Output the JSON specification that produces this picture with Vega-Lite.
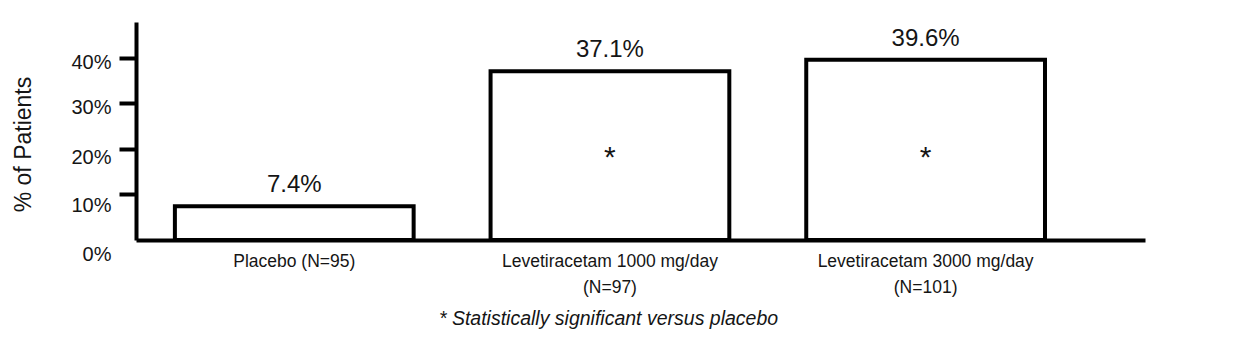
{
  "$schema": "https://vega.github.io/schema/vega-lite/v6.json",
  "width": 1009,
  "height": 218,
  "autosize": "none",
  "padding": {"left": 136, "top": 22, "right": 91, "bottom": 118},
  "background": "white",
  "config": {"view": {"stroke": null}, "font": "Liberation Sans", "text": {"color": "#151515"}},
  "data": {"values": [
    {"group": "Placebo (N=95)", "pct": 7.4, "label": "7.4%", "sig": ""},
    {"group": "Levetiracetam 1000 mg/day|(N=97)", "pct": 37.1, "label": "37.1%", "sig": "*"},
    {"group": "Levetiracetam 3000 mg/day|(N=101)", "pct": 39.6, "label": "39.6%", "sig": "*"}
  ]},
  "encoding": {
    "x": {
      "field": "group", "type": "nominal", "sort": null,
      "scale": {"paddingInner": 0.2437, "paddingOuter": 0.22, "align": 0.28},
      "axis": {
        "domainWidth": 4, "domainColor": "black", "ticks": false, "labelAngle": 0,
        "labelExpr": "split(datum.label, '|')", "labelFontSize": 17.5, "labelPadding": 12,
        "labelLineHeight": 26, "labelColor": "#151515", "labelLimit": 0,
        "title": "* Statistically significant versus placebo",
        "titleFontStyle": "italic", "titleFontWeight": "normal", "titleFontSize": 19.5,
        "titleColor": "#151515", "titleX": 472, "titleY": 78, "titleBaseline": "middle", "titleAlign": "center"
      }
    }
  },
  "layer": [
    {
      "mark": {"type": "bar", "fill": "white", "stroke": "black", "strokeWidth": 4},
      "encoding": {
        "y": {
          "field": "pct", "type": "quantitative",
          "scale": {"domain": [0, 47.9], "nice": false},
          "axis": {
            "values": [0, 10, 20, 30, 40], "labelExpr": "datum.value + '%'", "grid": false,
            "domainWidth": 4, "domainColor": "black", "tickColor": "black", "tickWidth": 4, "tickSize": 17,
            "tickOpacity": {"condition": {"test": "datum.value === 0", "value": 0}, "value": 1},
            "labelOffset": {"condition": [
              {"test": "datum.value === 0", "value": 14},
              {"test": "datum.value === 10", "value": 11},
              {"test": "datum.value === 20", "value": 9},
              {"test": "datum.value === 30", "value": 4}
            ], "value": 5},
            "labelFontSize": 20, "labelPadding": 8, "labelColor": "#151515",
            "title": "% of Patients", "titleFontSize": 23, "titleFontWeight": "normal", "titleColor": "#151515",
            "titleAngle": -90, "titleX": -113, "titleY": 122, "titleBaseline": "middle", "titleAlign": "center"
          }
        }
      }
    },
    {
      "mark": {"type": "text", "fontSize": 24, "baseline": "alphabetic", "dy": -14},
      "encoding": {
        "y": {"field": "pct", "type": "quantitative"},
        "text": {"field": "label"}
      }
    },
    {
      "mark": {"type": "text", "fontSize": 30, "baseline": "alphabetic"},
      "encoding": {
        "y": {"datum": 16},
        "text": {"field": "sig"}
      }
    }
  ]
}
